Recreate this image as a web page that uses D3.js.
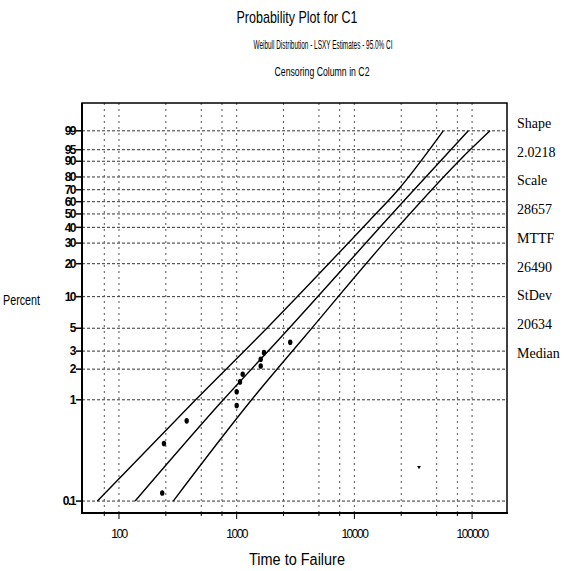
<!DOCTYPE html>
<html>
<head>
<meta charset="utf-8">
<script src="https://cdn.jsdelivr.net/npm/d3@7"></script>
<style>
  body { margin: 0; background: #fff; }
  svg text { font-family: "Liberation Sans", Arial, sans-serif; fill: #000; }
  .grid line { stroke: #222; stroke-width: 1; }
</style>
</head>
<body>
<div id="content"></div>
<script>
// values
var failTimes = [233, 241, 376, 1000, 1000, 1067, 1125, 1600, 1600, 1706, 2850];
var failPct   = [0.12, 0.37, 0.62, 0.88, 1.2, 1.5, 1.78, 2.15, 2.5, 2.9, 3.66];

// fitted line and the two 95% confidence bounds
var fitTimes   = [137, 769, 2334, 26030, 92900];
var fitPct     = [0.1, 1.0, 4.0, 60.1, 99];
var upperTimes = [65.4, 448, 1919, 13580, 22860, 56900];
var upperPct   = [0.1, 1.0, 5.38, 45.4, 68.5, 99];
var lowerTimes = [289, 1340, 3681, 23600, 78900, 141900];
var lowerPct   = [0.1, 1.0, 4.0, 40.5, 90.7, 99];

// stray mark near the lower right
var strayTimes = [35400];
var strayPct   = [0.217];

var pctTicks  = [0.1, 1, 2, 3, 5, 10, 20, 30, 40, 50, 60, 70, 80, 90, 95, 99];
var timeGrid  = [75, 100, 250, 500, 750, 1000, 2500, 5000, 7500, 10000, 25000, 50000, 75000, 100000];
var timeLabels = [100, 1000, 10000, 100000];

var statLabels = ["Shape", "2.0218", "Scale", "28657", "MTTF", "26490", "StDev", "20634", "Median"];

var width = 564, height = 571;
var plotL = 82, plotR = 507, plotT = 103, plotB = 513;

var svg = d3.select('#content').append('svg')
  .attr('width', width)
  .attr('height', height);

var x = d3.scaleLog().domain([48.5, 198000]).range([plotL, plotR]);

// weibull probability paper: ln(-ln(1-p))
function wb(p) { return Math.log(-Math.log(1 - p / 100)); }
var yw = d3.scaleLinear().domain([wb(0.0762), wb(99.983)]).range([plotB, plotT]);
var y = function(p) { return yw(wb(p)); };

// grid
var grid = svg.append('g').attr('class', 'grid');
grid.selectAll('line.h')
  .data(pctTicks)
  .enter().append('line')
  .attr('class', 'h')
  .attr('x1', plotL).attr('x2', plotR)
  .attr('y1', d => y(d)).attr('y2', d => y(d))
  .style('stroke-dasharray', '3,2')
  .style('stroke', '#333');

grid.selectAll('line.v')
  .data(timeGrid)
  .enter().append('line')
  .attr('class', 'v')
  .attr('y1', plotT).attr('y2', plotB)
  .attr('x1', d => x(d)).attr('x2', d => x(d))
  .style('stroke-dasharray', '2,4')
  .style('stroke', '#555');

// frame
svg.append('rect')
  .attr('x', plotL).attr('y', plotT)
  .attr('width', plotR - plotL).attr('height', plotB - plotT)
  .style('fill', 'none').style('stroke', '#000').style('stroke-width', 1.5);
svg.append('line')
  .attr('x1', plotL).attr('x2', plotL).attr('y1', plotT).attr('y2', plotB + 1)
  .style('stroke', '#000').style('stroke-width', 2);
svg.append('line')
  .attr('x1', plotL - 1).attr('x2', plotR + 1).attr('y1', plotB).attr('y2', plotB)
  .style('stroke', '#000').style('stroke-width', 2);

// y ticks + labels
svg.selectAll('line.yt')
  .data(pctTicks)
  .enter().append('line')
  .attr('class', 'yt')
  .attr('x1', plotL - 6).attr('x2', plotL)
  .attr('y1', d => y(d)).attr('y2', d => y(d))
  .style('stroke', '#000').style('stroke-width', 1.5);

svg.selectAll('text.yl')
  .data(pctTicks)
  .enter().append('text')
  .attr('class', 'yl')
  .attr('x', plotL - 7)
  .attr('y', d => y(d))
  .attr('dy', '0.35em')
  .attr('text-anchor', 'end')
  .style('font-size', '12px')
  .style('font-weight', 'bold')
  .style('letter-spacing', '-1.5px')
  .text(d => d);

// x ticks + labels
svg.selectAll('line.xt')
  .data(timeGrid)
  .enter().append('line')
  .attr('class', 'xt')
  .attr('x1', d => x(d)).attr('x2', d => x(d))
  .attr('y1', plotB)
  .attr('y2', d => timeLabels.includes(d) ? plotB + 6 : plotB + 3)
  .style('stroke', '#000').style('stroke-width', 1);

svg.selectAll('text.xl')
  .data(timeLabels)
  .enter().append('text')
  .attr('class', 'xl')
  .attr('x', d => x(d))
  .attr('y', 538)
  .attr('text-anchor', 'middle')
  .style('font-size', '12px')
  .style('letter-spacing', '-1.5px')
  .text(d => d);

// lines
var line = d3.line().curve(d3.curveMonotoneX).x(d => x(d[0])).y(d => y(d[1]));
[[fitTimes, fitPct], [upperTimes, upperPct], [lowerTimes, lowerPct]].forEach(function(s) {
  svg.append('path')
    .datum(d3.zip(s[0], s[1]))
    .attr('d', line)
    .style('fill', 'none')
    .style('stroke', '#000')
    .style('stroke-width', 1.4);
});

// failure points
svg.selectAll('ellipse.pt')
  .data(d3.zip(failTimes, failPct))
  .enter().append('ellipse')
  .attr('class', 'pt')
  .attr('cx', d => x(d[0]))
  .attr('cy', d => y(d[1]))
  .attr('rx', 2.2).attr('ry', 2.8)
  .style('fill', '#000');

svg.selectAll('path.stray')
  .data(d3.zip(strayTimes, strayPct))
  .enter().append('path')
  .attr('class', 'stray')
  .attr('d', d3.symbol().type(d3.symbolTriangle).size(6))
  .attr('transform', d => 'translate(' + x(d[0]) + ',' + y(d[1]) + ') rotate(180)')
  .style('fill', '#000');

// titles
svg.append('text')
  .attr('x', 297).attr('y', 23)
  .attr('text-anchor', 'middle')
  .attr('textLength', 121).attr('lengthAdjust', 'spacingAndGlyphs')
  .style('font-size', '17px')
  .text('Probability Plot for C1');
svg.append('text')
  .attr('x', 323).attr('y', 49)
  .attr('text-anchor', 'middle')
  .attr('textLength', 139).attr('lengthAdjust', 'spacingAndGlyphs')
  .style('font-size', '12px')
  .text('Weibull Distribution - LSXY Estimates - 95.0% CI');
svg.append('text')
  .attr('x', 322).attr('y', 76)
  .attr('text-anchor', 'middle')
  .attr('textLength', 95).attr('lengthAdjust', 'spacingAndGlyphs')
  .style('font-size', '12px')
  .text('Censoring Column in C2');

// axis titles
svg.append('text')
  .attr('x', 3).attr('y', 305)
  .attr('textLength', 37).attr('lengthAdjust', 'spacingAndGlyphs')
  .style('font-size', '14px')
  .text('Percent');
svg.append('text')
  .attr('x', 297).attr('y', 565)
  .attr('text-anchor', 'middle')
  .attr('textLength', 96).attr('lengthAdjust', 'spacingAndGlyphs')
  .style('font-size', '16px')
  .text('Time to Failure');

// stats on the right
svg.selectAll('text.stat')
  .data(statLabels)
  .enter().append('text')
  .attr('class', 'stat')
  .attr('x', 517)
  .attr('y', (d, i) => 128 + i * 28.7)
  .style('font-family', '"Liberation Serif", "Times New Roman", serif')
  .style('font-size', '14px')
  .text(d => d);
</script>
</body>
</html>
